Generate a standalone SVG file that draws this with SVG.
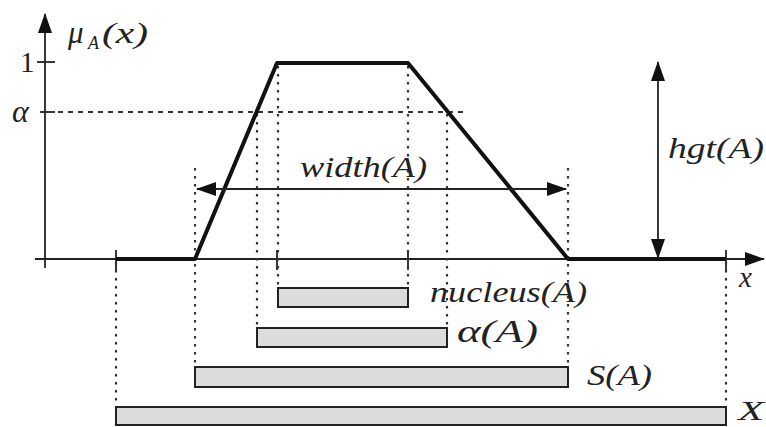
<svg xmlns="http://www.w3.org/2000/svg" width="766" height="427" viewBox="0 0 766 427">
<defs>
<marker id="ah" viewBox="0 0 20 14" refX="19" refY="7" markerWidth="20" markerHeight="14" markerUnits="userSpaceOnUse" orient="auto-start-reverse">
<path d="M0,0 L20,7 L0,14 Z" fill="#111"/>
</marker>
<style>
.ax{stroke:#222;stroke-width:1.8;fill:none}
.thick{stroke:#111;stroke-width:4;fill:none;stroke-linejoin:round}
.dotv{stroke:#333;stroke-width:2.2;stroke-dasharray:2.5 5.5;fill:none}
.doth{stroke:#333;stroke-width:2;stroke-dasharray:5 5;fill:none}
.tick{stroke:#222;stroke-width:1.8}
.bar{fill:#dcdcdc;stroke:#222;stroke-width:2}
.lbl{font-family:"Liberation Serif","Times New Roman",serif;font-style:italic;font-size:29px;fill:#222}
.num{font-family:"Liberation Serif","Times New Roman",serif;font-size:29px;fill:#222}
</style>
</defs>
<rect width="766" height="427" fill="#fff"/>
<g id="connectors">
<line class="ax" x1="45" y1="268" x2="45" y2="14" marker-end="url(#ah)"/>
<line class="ax" x1="35" y1="259" x2="764" y2="259" marker-end="url(#ah)"/>
<line class="tick" x1="37" y1="62" x2="55" y2="62"/>
<line class="tick" x1="40" y1="112" x2="55" y2="112"/>
<line class="tick" x1="116" y1="250" x2="116" y2="270"/>
<line class="tick" x1="277" y1="250" x2="277" y2="270"/>
<line class="tick" x1="408" y1="250" x2="408" y2="270"/>
<line class="tick" x1="726" y1="250" x2="726" y2="270"/>
<line class="doth" x1="58" y1="112" x2="463" y2="112"/>
<line class="dotv" x1="116" y1="262" x2="116" y2="406"/>
<line class="dotv" x1="195" y1="168" x2="195" y2="366"/>
<line class="dotv" x1="257" y1="114" x2="257" y2="327"/>
<line class="dotv" x1="278" y1="66" x2="278" y2="287"/>
<line class="dotv" x1="408" y1="66" x2="408" y2="287"/>
<line class="dotv" x1="447" y1="114" x2="447" y2="327"/>
<line class="dotv" x1="568" y1="168" x2="568" y2="366"/>
<line class="dotv" x1="726" y1="262" x2="726" y2="406"/>
<polyline class="thick" points="116,259 195,259 277,63 408,63 568,259 726,259"/>
<line class="ax" x1="197" y1="189" x2="566" y2="189" marker-start="url(#ah)" marker-end="url(#ah)"/>
<line class="ax" x1="658" y1="62" x2="658" y2="258" marker-start="url(#ah)" marker-end="url(#ah)"/>
</g>
<g id="axis-labels">
<text class="lbl" x="68" y="43" style="font-size:31px">μ</text>
<text class="lbl" x="88" y="49" style="font-size:18px">A</text>
<text class="lbl" x="102" y="43" textLength="46" lengthAdjust="spacingAndGlyphs">(x)</text>
<text class="num" x="20" y="72">1</text>
<text class="lbl" x="12" y="122" style="font-size:32px">α</text>
<text class="lbl" x="739" y="287">x</text>
</g>
<g id="width-label"><text class="lbl" x="300" y="177" textLength="127" lengthAdjust="spacingAndGlyphs">width(A)</text></g>
<g id="hgt-label"><text class="lbl" x="668" y="158" textLength="96" lengthAdjust="spacingAndGlyphs">hgt(A)</text></g>
<g id="nucleus">
<rect class="bar" x="278" y="288" width="130" height="19"/>
<text class="lbl" x="430" y="302" textLength="157" lengthAdjust="spacingAndGlyphs">nucleus(A)</text>
</g>
<g id="alpha-cut">
<rect class="bar" x="257" y="328" width="190" height="19"/>
<text class="lbl" x="457" y="342" textLength="81" lengthAdjust="spacingAndGlyphs" style="font-size:31px">α(A)</text>
</g>
<g id="support">
<rect class="bar" x="195" y="367" width="373" height="20"/>
<text class="lbl" x="587" y="385" textLength="65" lengthAdjust="spacingAndGlyphs">S(A)</text>
</g>
<g id="universe">
<rect class="bar" x="116" y="407" width="610" height="18"/>
<text class="lbl" x="738" y="420" textLength="26" lengthAdjust="spacingAndGlyphs" style="font-size:28px">X</text>
</g>
</svg>
